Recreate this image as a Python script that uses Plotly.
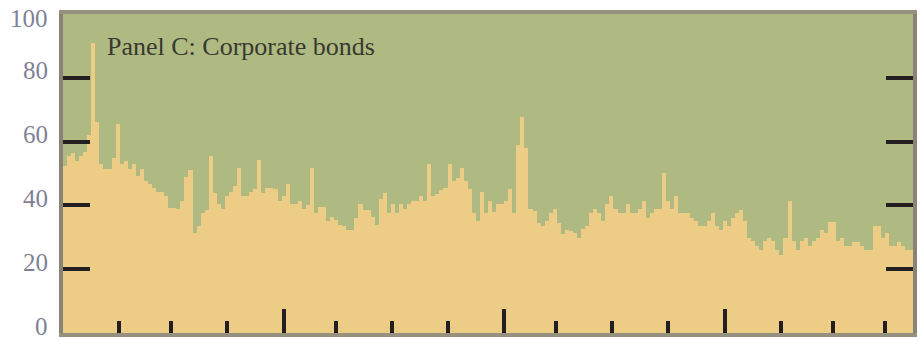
import plotly.graph_objects as go

# Share of corporate bonds (percent), left to right
corporate_share = [
    52.3, 55.5, 56.5, 53.9, 55.5, 56.7, 62.0, 91.0, 66.0, 53.0, 51.5, 51.5, 55.0, 65.4, 52.9,
    54.0, 51.5, 52.9, 49.2, 51.5, 47.6, 46.6, 45.5, 44.2, 44.2, 42.9, 39.2, 39.2, 39.0, 41.3,
    49.0, 51.0, 31.4, 33.5, 37.7, 38.7, 55.5, 44.0, 40.3, 38.9, 42.9, 44.2, 46.0, 51.6, 42.9,
    42.9, 44.2, 45.2, 54.1, 44.0, 45.5, 45.5, 45.2, 41.5, 43.0, 46.6, 40.3, 40.3, 41.5, 39.0,
    40.0, 51.6, 37.7, 39.5, 39.5, 35.0, 36.5, 35.5, 34.0, 33.7, 32.4, 32.4, 36.0, 40.3, 38.5,
    38.5, 36.5, 34.0, 42.0, 44.0, 37.7, 40.3, 37.7, 40.3, 39.0, 40.3, 41.5, 41.5, 42.9, 41.5,
    52.9, 42.9, 43.5, 44.7, 45.5, 52.9, 47.5, 48.5, 51.6, 47.5, 45.0, 37.7, 35.0, 44.2, 37.7,
    41.5, 38.0, 40.3, 40.3, 41.5, 45.2, 37.7, 59.0, 67.8, 57.9, 39.0, 38.3, 34.5, 33.7, 35.0,
    37.7, 39.0, 34.5, 31.0, 32.4, 32.0, 31.2, 29.8, 32.6, 33.7, 37.7, 39.0, 37.7, 35.0, 40.3,
    42.9, 39.0, 37.7, 37.7, 40.3, 37.7, 37.7, 39.0, 41.5, 36.0, 37.7, 39.0, 39.0, 50.2, 41.5,
    39.0, 42.9, 37.7, 37.7, 37.7, 36.0, 35.0, 33.7, 33.7, 35.0, 37.7, 33.7, 32.4, 35.0, 33.7,
    36.0, 37.7, 38.7, 35.0, 29.8, 28.8, 27.2, 26.1, 28.8, 29.8, 28.8, 26.1, 24.6, 29.8, 41.5,
    28.8, 26.1, 28.8, 29.8, 27.4, 28.8, 29.8, 32.4, 31.2, 34.8, 34.8, 28.8, 29.8, 27.4, 27.4,
    28.5, 28.5, 27.4, 26.1, 26.1, 33.7, 33.7, 29.8, 31.2, 27.4, 27.4, 28.5, 27.4, 26.1, 26.1,
]
other_share = [100 - v for v in corporate_share]
periods = list(range(len(corporate_share)))

y_tick_values = [0, 20, 40, 60, 80, 100]
y_tick_labels = ["0", "20", "40", "60", "80", "100"]
y_tick_marks = [20, 40, 60, 80]
x_major_ticks = [54.1, 108.4, 163.0]
x_minor_ticks = [13.3, 26.2, 40.0, 66.9, 80.8, 94.6, 121.3, 135.1, 149.0, 176.9, 189.7, 202.6]
panel_title = "Panel C: Corporate bonds"

YELLOW = "#edcc85"
GREEN = "#afba83"
SERIF = "Liberation Serif"
TICK_DARK = "#231f20"

fig = go.Figure()
fig.add_trace(go.Bar(x=periods, y=corporate_share, yaxis="y",
                     marker=dict(color=YELLOW, line=dict(width=0)),
                     showlegend=False, hoverinfo="skip"))
fig.add_trace(go.Bar(x=periods, y=other_share, base=corporate_share, yaxis="y2",
                     marker=dict(color=GREEN, line=dict(width=0)),
                     showlegend=False, hoverinfo="skip"))

# y tick labels drawn as text next to the axis (top label sits just below the frame)
label_annotations = []
for val, txt in zip(y_tick_values, y_tick_labels):
    label_annotations.append(dict(
        text=txt, xref="paper", yref="y", x=0, y=val, xanchor="right", yanchor="middle",
        xshift=-13, yshift=(-4 if val == max(y_tick_values) else 7), showarrow=False,
        font=dict(family=SERIF, size=25, color="#7f8196"),
    ))

n = len(periods)
fig.update_layout(
    width=922, height=340,
    margin=dict(l=63, r=9, t=14, b=7, pad=0, autoexpand=False),
    paper_bgcolor="white",
    plot_bgcolor=GREEN,
    barmode="overlay",
    bargap=0,
    xaxis=dict(
        range=[-0.5, n - 0.5],
        showgrid=False, zeroline=False,
        showline=True, mirror=True, linecolor="rgba(80,72,40,0.6)", linewidth=4,
        tickmode="array", tickvals=x_major_ticks, ticks="inside", ticklen=24,
        tickwidth=3.5, tickcolor=TICK_DARK, showticklabels=False,
        minor=dict(tickmode="array", tickvals=x_minor_ticks, ticks="inside",
                   ticklen=12, tickwidth=3.5, tickcolor=TICK_DARK),
    ),
    yaxis=dict(
        range=[0, 100], automargin=False,
        showgrid=False, zeroline=False,
        showline=True, mirror=True, linecolor="rgba(70,66,45,0.65)", linewidth=4,
        tickmode="array", tickvals=y_tick_values, ticks="", showticklabels=False,
    ),
    yaxis2=dict(
        range=[0, 100], overlaying="y", anchor="x", side="left", automargin=False,
        showgrid=False, zeroline=False, showline=False,
        tickmode="array", tickvals=y_tick_marks, ticks="inside", ticklen=27,
        tickwidth=3.5, tickcolor=TICK_DARK, showticklabels=False, mirror="ticks",
    ),
    annotations=label_annotations + [dict(
        text=panel_title, xref="paper", yref="paper", x=0.049, y=0.897,
        xanchor="left", yanchor="middle", showarrow=False,
        font=dict(family=SERIF, size=26, color="#38392e"),
    )],
)

fig.write_html("out.html", config={"displayModeBar": False},
               post_script="document.body.style.margin='0px';")
